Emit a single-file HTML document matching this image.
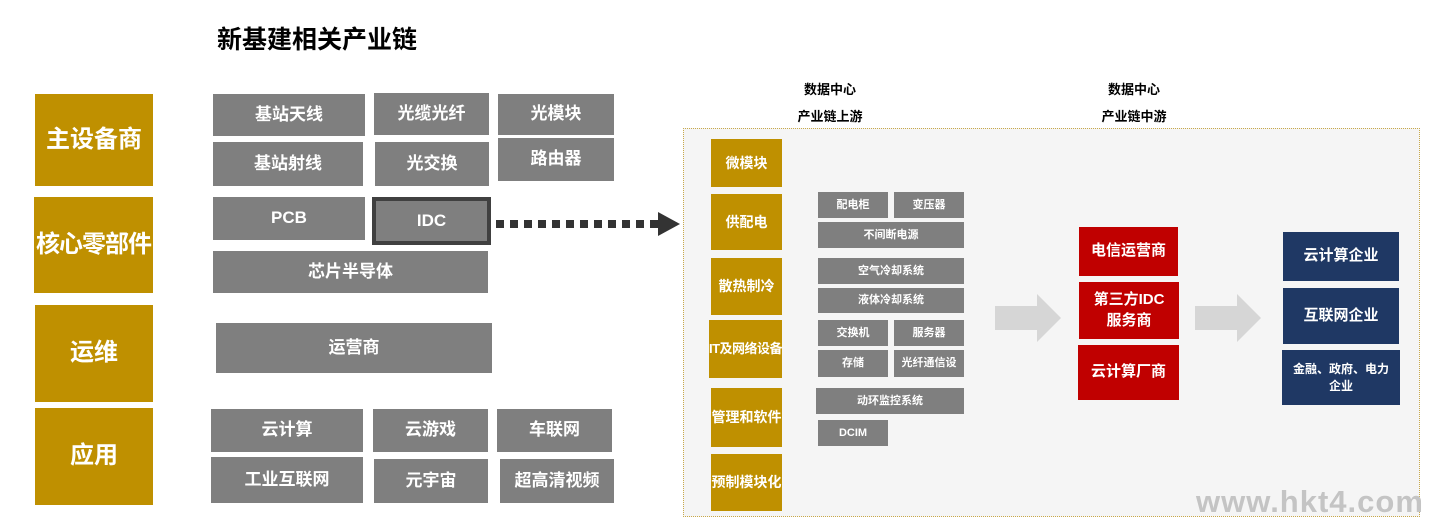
<!DOCTYPE html>
<html><head><meta charset="utf-8"><style>
body{margin:0;width:1435px;height:519px;background:#fff;position:relative;overflow:hidden;font-family:"Liberation Sans","Noto Sans CJK SC",sans-serif;font-weight:bold}
.b{position:absolute;display:flex;align-items:center;justify-content:center;text-align:center;color:#fff;box-sizing:border-box;line-height:1.35}
.g{background:#bf9000;font-size:24px;white-space:nowrap}
.y{background:#7f7f7f;font-size:17px}
.s{background:#7f7f7f;font-size:11px;white-space:nowrap}
.c{background:#bf9000;font-size:14px;white-space:nowrap}
.r{background:#c00000;font-size:15px}
.n{background:#1f3864;font-size:15px}
.h{position:absolute;font-size:13px;color:#000;text-align:center;line-height:27px}
</style></head><body>
<div style="position:absolute;left:217px;top:20px;font-size:25px;color:#000">新基建相关产业链</div>

<div class="b g" style="left:35px;top:94px;width:118px;height:92px">主设备商</div>
<div class="b g" style="left:34px;top:197px;width:119px;height:96px;letter-spacing:-1px">核心零部件</div>
<div class="b g" style="left:35px;top:305px;width:118px;height:97px">运维</div>
<div class="b g" style="left:35px;top:408px;width:118px;height:97px">应用</div>

<div class="b y" style="left:213px;top:94px;width:152px;height:42px">基站天线</div>
<div class="b y" style="left:374px;top:93px;width:115px;height:42px">光缆光纤</div>
<div class="b y" style="left:498px;top:94px;width:116px;height:41px">光模块</div>
<div class="b y" style="left:213px;top:142px;width:150px;height:44px">基站射线</div>
<div class="b y" style="left:375px;top:142px;width:114px;height:44px">光交换</div>
<div class="b y" style="left:498px;top:138px;width:116px;height:43px">路由器</div>
<div class="b y" style="left:213px;top:197px;width:152px;height:43px">PCB</div>
<div class="b y" style="left:372px;top:197px;width:119px;height:48px;border:4px solid #404040">IDC</div>
<div class="b y" style="left:213px;top:251px;width:275px;height:42px">芯片半导体</div>
<div class="b y" style="left:216px;top:323px;width:276px;height:50px">运营商</div>
<div class="b y" style="left:211px;top:409px;width:152px;height:43px">云计算</div>
<div class="b y" style="left:373px;top:409px;width:115px;height:43px">云游戏</div>
<div class="b y" style="left:497px;top:409px;width:115px;height:43px">车联网</div>
<div class="b y" style="left:211px;top:457px;width:152px;height:46px">工业互联网</div>
<div class="b y" style="left:374px;top:459px;width:114px;height:44px">元宇宙</div>
<div class="b y" style="left:500px;top:459px;width:114px;height:44px">超高清视频</div>

<svg style="position:absolute;left:490px;top:205px" width="200" height="40">
<line x1="6" y1="19" x2="170" y2="19" stroke="#333" stroke-width="8" stroke-dasharray="8,6"/>
<polygon points="168,7 190,19 168,31" fill="#333"/>
</svg>

<div class="h" style="left:780px;top:76px;width:100px">数据中心<br>产业链上游</div>
<div class="h" style="left:1084px;top:76px;width:100px">数据中心<br>产业链中游</div>

<div style="position:absolute;left:683px;top:128px;width:737px;height:389px;background:#f5f5f5;border:1px dotted #c9a94a;box-sizing:border-box"></div>

<div class="b c" style="left:711px;top:139px;width:71px;height:48px">微模块</div>
<div class="b c" style="left:711px;top:194px;width:71px;height:56px">供配电</div>
<div class="b c" style="left:711px;top:258px;width:71px;height:57px">散热制冷</div>
<div class="b c" style="left:709px;top:320px;width:73px;height:58px;font-size:13px;letter-spacing:-0.5px">IT及网络设备</div>
<div class="b c" style="left:711px;top:388px;width:71px;height:59px">管理和软件</div>
<div class="b c" style="left:711px;top:454px;width:71px;height:57px">预制模块化</div>

<div class="b s" style="left:818px;top:192px;width:70px;height:26px">配电柜</div>
<div class="b s" style="left:894px;top:192px;width:70px;height:26px">变压器</div>
<div class="b s" style="left:818px;top:222px;width:146px;height:26px">不间断电源</div>
<div class="b s" style="left:818px;top:258px;width:146px;height:26px">空气冷却系统</div>
<div class="b s" style="left:818px;top:288px;width:146px;height:25px">液体冷却系统</div>
<div class="b s" style="left:818px;top:320px;width:70px;height:26px">交换机</div>
<div class="b s" style="left:894px;top:320px;width:70px;height:26px">服务器</div>
<div class="b s" style="left:818px;top:350px;width:70px;height:27px">存储</div>
<div class="b s" style="left:894px;top:350px;width:70px;height:27px">光纤通信设</div>
<div class="b s" style="left:816px;top:388px;width:148px;height:26px">动环监控系统</div>
<div class="b s" style="left:818px;top:420px;width:70px;height:26px">DCIM</div>

<svg style="position:absolute;left:993px;top:292px" width="72" height="52"><polygon points="2,14 44,14 44,2 68,26 44,50 44,38 2,38" fill="#d6d6d6"/></svg>
<svg style="position:absolute;left:1193px;top:292px" width="72" height="52"><polygon points="2,14 44,14 44,2 68,26 44,50 44,38 2,38" fill="#d6d6d6"/></svg>

<div class="b r" style="left:1079px;top:227px;width:99px;height:49px">电信运营商</div>
<div class="b r" style="left:1079px;top:282px;width:100px;height:57px">第三方IDC<br>服务商</div>
<div class="b r" style="left:1078px;top:345px;width:101px;height:55px">云计算厂商</div>

<div class="b n" style="left:1283px;top:232px;width:116px;height:49px">云计算企业</div>
<div class="b n" style="left:1283px;top:288px;width:116px;height:56px">互联网企业</div>
<div class="b n" style="left:1282px;top:350px;width:118px;height:55px;font-size:12px">金融、政府、电力<br>企业</div>

<div style="position:absolute;left:1196px;top:484px;font-size:31px;color:#c4c4c4;letter-spacing:1px;font-family:'Liberation Sans',sans-serif">www.hkt4.com</div>
</body></html>
